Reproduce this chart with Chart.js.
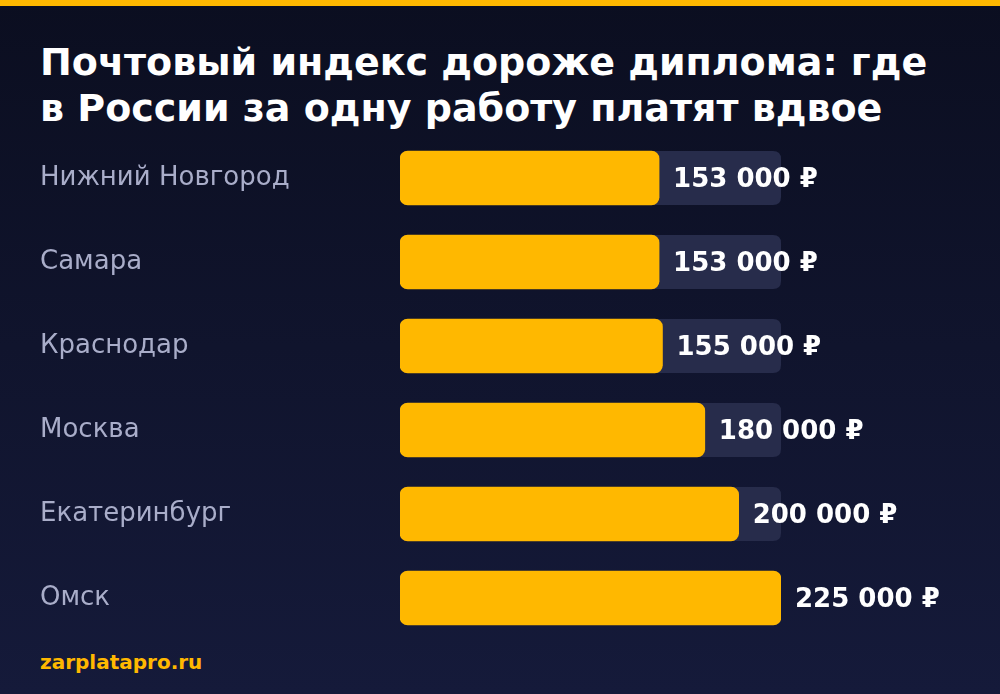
<!DOCTYPE html>
<html lang="ru">
<head>
<meta charset="utf-8">
<script src="https://cdn.jsdelivr.net/npm/chart.js@4"></script>
<style>
  html, body { margin: 0; padding: 0; }
  body {
    width: 1000px; height: 694px; overflow: hidden; position: relative;
    background: linear-gradient(180deg, #0b0e20 0%, #151a3a 100%);
    font-family: "DejaVu Sans", sans-serif;
  }
  .topbar { position: absolute; left: 0; top: 0; width: 1000px; height: 6px; background: #ffb800; }
  h1 {
    position: absolute; left: 40px; top: 39px; margin: 0;
    font-size: 38px; line-height: 46px; font-weight: bold; color: #ffffff;
  }
  .src {
    position: absolute; left: 40px; top: 650px;
    font-size: 20px; font-weight: bold; color: #ffb800;
  }
  .wrap { position: absolute; left: 0; top: 136px; width: 1000px; height: 504px; }
</style>
</head>
<body>
<div class="topbar"></div>
<h1>Почтовый индекс дороже диплома: где<br>в России за одну работу платят вдвое</h1>
<div class="wrap"><canvas id="salary" width="1000" height="504"></canvas></div>
<div class="src">zarplatapro.ru</div>
<script>
var cities = ['Нижний Новгород', 'Самара', 'Краснодар', 'Москва', 'Екатеринбург', 'Омск'];
var salaries = [153000, 153000, 155000, 180000, 200000, 225000];
var axisMax = 225000;

function rub(v) {
    return String(v).replace(/\B(?=(\d{3})+(?!\d))/g, ' ') + ' ₽';
}

function roundRect(c, x, y, w, h, r) {
    c.beginPath();
    c.moveTo(x + r, y);
    c.lineTo(x + w - r, y);
    c.quadraticCurveTo(x + w, y, x + w, y + r);
    c.lineTo(x + w, y + h - r);
    c.quadraticCurveTo(x + w, y + h, x + w - r, y + h);
    c.lineTo(x + r, y + h);
    c.quadraticCurveTo(x, y + h, x, y + h - r);
    c.lineTo(x, y + r);
    c.quadraticCurveTo(x, y, x + r, y);
    c.closePath();
}

// grey track behind every bar, full axis width
var tracks = {
    id: 'tracks',
    beforeDatasetsDraw: function (chart) {
        var c = chart.ctx, area = chart.chartArea;
        c.save();
        c.fillStyle = '#272c4b';
        chart.getDatasetMeta(0).data.forEach(function (bar) {
            roundRect(c, area.left, bar.y - bar.height / 2, area.right - area.left, bar.height, 8);
            c.fill();
        });
        c.restore();
    }
};

// value text right of the bar end
var values = {
    id: 'values',
    afterDatasetsDraw: function (chart) {
        var c = chart.ctx;
        c.save();
        c.font = 'bold 26px "DejaVu Sans"';
        c.fillStyle = '#ffffff';
        c.textBaseline = 'middle';
        chart.getDatasetMeta(0).data.forEach(function (bar, i) {
            c.fillText(rub(salaries[i]), bar.x + 14, bar.y + 2);
        });
        c.restore();
    }
};

var ctx = document.getElementById('salary').getContext('2d');
var chart = new Chart(ctx, {
    type: 'bar',
    data: {
        labels: cities,
        datasets: [{
            data: salaries,
            backgroundColor: '#ffb800',
            borderRadius: 8,
            borderSkipped: false,
            barThickness: 54
        }]
    },
    options: {
        indexAxis: 'y',
        responsive: false,
        animation: false,
        layout: { padding: { left: 40, right: 219, top: 0, bottom: 0 } },
        plugins: { legend: { display: false }, tooltip: { enabled: false } },
        scales: {
            x: { min: 0, max: axisMax, display: false },
            y: {
                grid: { display: false },
                border: { display: false },
                afterFit: function (scale) {
                    scale.width = 360;
                    scale.paddingTop = 0;
                    scale.paddingBottom = 0;
                },
                ticks: {
                    crossAlign: 'far',
                    padding: 0,
                    color: '#a9adc9',
                    font: { family: 'DejaVu Sans', size: 26 }
                }
            }
        }
    },
    plugins: [tracks, values]
});
</script>
</body>
</html>
